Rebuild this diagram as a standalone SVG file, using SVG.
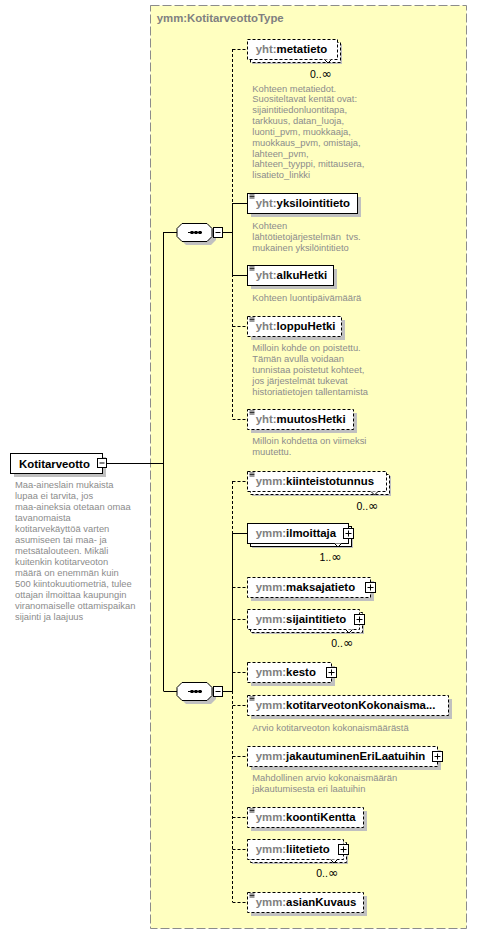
<svg xmlns="http://www.w3.org/2000/svg" width="477" height="934" viewBox="0 0 477 934">
<style>
.bg{fill:#fff}
.cont{fill:#ffffc0;stroke:#8c8c8c;stroke-width:1;stroke-dasharray:9 3}
.box{fill:#fff;stroke:#000;stroke-width:1}
.opt{stroke-dasharray:3 2}
.shd{fill:#c0c0c0}
.ln{stroke:#000;stroke-width:1;fill:none}
.dl{stroke-dasharray:3 2}
.ico{stroke:#000;stroke-width:0.8;fill:none}
.lbl{font-family:"Liberation Sans",Arial,sans-serif;font-weight:bold;font-size:11.4px;fill:#000}
.pfx{fill:#808080}
.ttl{font-family:"Liberation Sans",Arial,sans-serif;font-weight:bold;font-size:11.4px;fill:#808080}
.desc{font-family:"Liberation Sans",Arial,sans-serif;font-size:9.4px;fill:#8c8c8c}
.occ{font-family:"Liberation Sans",Arial,sans-serif;font-size:10.5px;fill:#000;text-anchor:end}
.inf{font-family:"DejaVu Sans",sans-serif;font-size:12.5px}
.v{fill:#fff;stroke:#000;stroke-width:1}
</style>
<rect class="bg" x="0" y="0" width="477" height="934"/>
<g id="container">
<rect class="cont" x="150.5" y="5.5" width="316" height="923"/>
<text class="ttl" x="156.7" y="22.3">ymm:KotitarveottoType</text>
</g>

<g id="connectors">
<path class="ln" d="M107 463.5H163.5M163.5 232V691M163.5 232.5H177M163.5 691.5H177"/>
<path class="ln" d="M223 232.5H232.5M223 691.5H232.5"/>
<path class="ln dl" d="M232.5 49V419"/>
<path class="ln" d="M232.5 203V275"/>
<path class="ln dl" d="M232.5 481V902"/>
<path class="ln" d="M232.5 533V691"/>
<path class="ln dl" d="M232.5 49.5H247M232.5 326.5H247M232.5 419.5H247"/>
<path class="ln" d="M232.5 203.5H247M232.5 275.5H247"/>
<path class="ln dl" d="M232.5 481.5H247M232.5 587.5H247M232.5 619.5H247M232.5 672.5H247M232.5 705.5H247M232.5 756.5H247M232.5 817.5H247M232.5 849.5H247M232.5 902.5H247"/>
<path class="ln" d="M232.5 533.5H247"/>
</g>

<g id="n-Kotitarveotto">
<rect class="shd" x="14" y="457" width="92" height="20"/>
<rect class="box" x="10.5" y="453.5" width="92" height="20"/>
<text class="lbl" x="19" y="467.5">Kotitarveotto</text>
<rect class="box" x="97.5" y="458.5" width="9" height="9"/>
<path class="ln" d="M99.5 463H104.5"/>
<text class="desc" x="15" y="488.3"><tspan x="15">Maa-aineslain mukaista</tspan><tspan x="15" dy="11">lupaa ei tarvita, jos</tspan><tspan x="15" dy="11">maa-aineksia otetaan omaa</tspan><tspan x="15" dy="11">tavanomaista</tspan><tspan x="15" dy="11">kotitarvekäyttöä varten</tspan><tspan x="15" dy="11">asumiseen tai maa- ja</tspan><tspan x="15" dy="11">metsätalouteen. Mikäli</tspan><tspan x="15" dy="11">kuitenkin kotitarveoton</tspan><tspan x="15" dy="11">määrä on enemmän kuin</tspan><tspan x="15" dy="11">500 kiintokuutiometriä, tulee</tspan><tspan x="15" dy="11">ottajan ilmoittaa kaupungin</tspan><tspan x="15" dy="11">viranomaiselle ottamispaikan</tspan><tspan x="15" dy="11">sijainti ja laajuus</tspan></text>
</g>

<g id="seq1">
<path class="shd" d="M186 227H211L216 232V240L211 245H186L181 240V232Z"/>
<path class="box" d="M182 223.5H207L212 228.5V236.5L207 241.5H182L177 236.5V228.5Z"/>
<path class="ln" d="M188 232.5H202"/>
<rect x="190.5" y="231" width="3" height="3" fill="#000"/>
<rect x="194.5" y="231" width="3" height="3" fill="#000"/>
<rect x="198.5" y="231" width="3" height="3" fill="#000"/>
<rect class="box" x="213.5" y="227.5" width="9" height="10"/>
<path class="ln" d="M215.5 232.5H220.5"/>
</g>

<g id="seq2">
<path class="shd" d="M186 686H211L216 691V699L211 704H186L181 699V691Z"/>
<path class="box" d="M182 682.5H207L212 687.5V695.5L207 700.5H182L177 695.5V687.5Z"/>
<path class="ln" d="M188 691.5H202"/>
<rect x="190.5" y="690" width="3" height="3" fill="#000"/>
<rect x="194.5" y="690" width="3" height="3" fill="#000"/>
<rect x="198.5" y="690" width="3" height="3" fill="#000"/>
<rect class="box" x="213.5" y="686.5" width="9" height="10"/>
<path class="ln" d="M215.5 691.5H220.5"/>
</g>

<g id="n-metatieto">
<rect class="shd" x="252" y="44" width="90" height="20"/>
<rect class="box opt" x="250.5" y="42.5" width="90" height="20"/>
<rect class="box opt" x="247.5" y="39.5" width="90" height="20"/>
<path class="v" d="M324.5 59.5L328 63L331.5 59.5"/>
<text class="lbl" x="255.7" y="53.3"><tspan class="pfx">yht:</tspan>metatieto</text>
<text class="occ" x="332" y="77.5">0..<tspan class="inf">∞</tspan></text>
<text class="desc" x="252.3" y="91.5"><tspan x="252.3">Kohteen metatiedot.</tspan><tspan x="252.3" dy="10.85">Suositeltavat kentät ovat:</tspan><tspan x="252.3" dy="10.85">sijaintitiedonluontitapa,</tspan><tspan x="252.3" dy="10.85">tarkkuus, datan_luoja,</tspan><tspan x="252.3" dy="10.85">luonti_pvm, muokkaaja,</tspan><tspan x="252.3" dy="10.85">muokkaus_pvm, omistaja,</tspan><tspan x="252.3" dy="10.85">lahteen_pvm,</tspan><tspan x="252.3" dy="10.85">lahteen_tyyppi, mittausera,</tspan><tspan x="252.3" dy="10.85">lisatieto_linkki</tspan></text>
</g>

<g id="n-yksilointitieto">
<rect class="shd" x="251" y="197" width="110" height="20"/>
<rect class="box" x="247.5" y="193.5" width="110" height="20"/>
<path class="ico" d="M249.5 195H254.5M249.5 196.5H254.5M249.5 198H254.5"/>
<text class="lbl" x="255.7" y="207.3"><tspan class="pfx">yht:</tspan>yksilointitieto</text>
<text class="desc" x="252.3" y="229" xml:space="preserve"><tspan x="252.3">Kohteen</tspan><tspan x="252.3" dy="11">lähtötietojärjestelmän  tvs.</tspan><tspan x="252.3" dy="11">mukainen yksilöintitieto</tspan></text>
</g>

<g id="n-alkuHetki">
<rect class="shd" x="251" y="269" width="86" height="20"/>
<rect class="box" x="247.5" y="265.5" width="86" height="20"/>
<path class="ico" d="M249.5 267H254.5M249.5 268.5H254.5M249.5 270H254.5"/>
<text class="lbl" x="255.7" y="279.3"><tspan class="pfx">yht:</tspan>alkuHetki</text>
<text class="desc" x="252.3" y="300.7">Kohteen luontipäivämäärä</text>
</g>

<g id="n-loppuHetki">
<rect class="shd" x="251" y="320" width="94" height="20"/>
<rect class="box opt" x="247.5" y="316.5" width="94" height="20"/>
<path class="ico" d="M249.5 318H254.5M249.5 319.5H254.5M249.5 321H254.5"/>
<text class="lbl" x="255.7" y="330.3"><tspan class="pfx">yht:</tspan>loppuHetki</text>
<text class="desc" x="252.3" y="350.7"><tspan x="252.3">Milloin kohde on poistettu.</tspan><tspan x="252.3" dy="11">Tämän avulla voidaan</tspan><tspan x="252.3" dy="11">tunnistaa poistetut kohteet,</tspan><tspan x="252.3" dy="11">jos järjestelmät tukevat</tspan><tspan x="252.3" dy="11">historiatietojen tallentamista</tspan></text>
</g>

<g id="n-muutosHetki">
<rect class="shd" x="251" y="413" width="106" height="20"/>
<rect class="box opt" x="247.5" y="409.5" width="106" height="20"/>
<path class="ico" d="M249.5 411H254.5M249.5 412.5H254.5M249.5 414H254.5"/>
<text class="lbl" x="255.7" y="423.3"><tspan class="pfx">yht:</tspan>muutosHetki</text>
<text class="desc" x="252.3" y="444.3"><tspan x="252.3">Milloin kohdetta on viimeksi</tspan><tspan x="252.3" dy="11">muutettu.</tspan></text>
</g>

<g id="n-kiinteistotunnus">
<rect class="shd" x="252" y="476" width="139" height="20"/>
<rect class="box opt" x="250.5" y="474.5" width="139" height="20"/>
<rect class="box opt" x="247.5" y="471.5" width="139" height="20"/>
<path class="v" d="M371 491.5L374.5 495L378 491.5"/>
<path class="ico" d="M249.5 473H254.5M249.5 474.5H254.5M249.5 476H254.5"/>
<text class="lbl" x="255.7" y="485.3"><tspan class="pfx">ymm:</tspan>kiinteistotunnus</text>
<text class="occ" x="378.5" y="509.5">0..<tspan class="inf">∞</tspan></text>
</g>

<g id="n-ilmoittaja">
<rect class="shd" x="252" y="528" width="101" height="20"/>
<rect class="box" x="250.5" y="526.5" width="101" height="20"/>
<rect class="box" x="247.5" y="523.5" width="101" height="20"/>
<path class="v" d="M334.5 543.5L338 547L341.5 543.5"/>
<text class="lbl" x="255.7" y="537.3"><tspan class="pfx">ymm:</tspan>ilmoittaja</text>
<rect class="box" x="343.5" y="528.5" width="10" height="10"/>
<path class="ln" d="M345.5 533.5H351.5M348.5 530.5V536.5"/>
<text class="occ" x="341.7" y="561">1..<tspan class="inf">∞</tspan></text>
</g>

<g id="n-maksajatieto">
<rect class="shd" x="251" y="581" width="123" height="20"/>
<rect class="box opt" x="247.5" y="577.5" width="123" height="20"/>
<text class="lbl" x="255.7" y="591.3"><tspan class="pfx">ymm:</tspan>maksajatieto</text>
<rect class="box" x="365.5" y="582.5" width="10" height="10"/>
<path class="ln" d="M367.5 587.5H373.5M370.5 584.5V590.5"/>
</g>

<g id="n-sijaintitieto">
<rect class="shd" x="252" y="614" width="112" height="20"/>
<rect class="box opt" x="250.5" y="612.5" width="112" height="20"/>
<rect class="box opt" x="247.5" y="609.5" width="112" height="20"/>
<path class="v" d="M345.5 629.5L349 633L352.5 629.5"/>
<text class="lbl" x="255.7" y="623.3"><tspan class="pfx">ymm:</tspan>sijaintitieto</text>
<rect class="box" x="354.5" y="614.5" width="10" height="10"/>
<path class="ln" d="M356.5 619.5H362.5M359.5 616.5V622.5"/>
<text class="occ" x="353.3" y="647">0..<tspan class="inf">∞</tspan></text>
</g>

<g id="n-kesto">
<rect class="shd" x="251" y="666" width="84" height="20"/>
<rect class="box opt" x="247.5" y="662.5" width="84" height="20"/>
<text class="lbl" x="255.7" y="676.3"><tspan class="pfx">ymm:</tspan>kesto</text>
<rect class="box" x="326.5" y="667.5" width="10" height="10"/>
<path class="ln" d="M328.5 672.5H334.5M331.5 669.5V675.5"/>
</g>

<g id="n-kotitarveotonKokonaismaara">
<rect class="shd" x="251" y="699" width="201" height="20"/>
<rect class="box opt" x="247.5" y="695.5" width="201" height="20"/>
<path class="ico" d="M249.5 697H254.5M249.5 698.5H254.5M249.5 700H254.5"/>
<text class="lbl" x="255.7" y="709.3"><tspan class="pfx">ymm:</tspan>kotitarveotonKokonaisma...</text>
<text class="desc" x="252.3" y="730.7">Arvio kotitarveoton kokonaismäärästä</text>
</g>

<g id="n-jakautuminenEriLaatuihin">
<rect class="shd" x="251" y="750" width="190" height="20"/>
<rect class="box opt" x="247.5" y="746.5" width="190" height="20"/>
<text class="lbl" x="255.7" y="760.3"><tspan class="pfx">ymm:</tspan>jakautuminenEriLaatuihin</text>
<rect class="box" x="432.5" y="751.5" width="10" height="10"/>
<path class="ln" d="M434.5 756.5H440.5M437.5 753.5V759.5"/>
<text class="desc" x="252.3" y="781.3"><tspan x="252.3">Mahdollinen arvio kokonaismäärän</tspan><tspan x="252.3" dy="10.8">jakautumisesta eri laatuihin</tspan></text>
</g>

<g id="n-koontiKentta">
<rect class="shd" x="251" y="811" width="116" height="20"/>
<rect class="box opt" x="247.5" y="807.5" width="116" height="20"/>
<path class="ico" d="M249.5 809H254.5M249.5 810.5H254.5M249.5 812H254.5"/>
<text class="lbl" x="255.7" y="821.3"><tspan class="pfx">ymm:</tspan>koontiKentta</text>
</g>

<g id="n-liitetieto">
<rect class="shd" x="252" y="844" width="96" height="20"/>
<rect class="box opt" x="250.5" y="842.5" width="96" height="20"/>
<rect class="box opt" x="247.5" y="839.5" width="96" height="20"/>
<path class="v" d="M330.5 859.5L334 863L337.5 859.5"/>
<text class="lbl" x="255.7" y="853.3"><tspan class="pfx">ymm:</tspan>liitetieto</text>
<rect class="box" x="338.5" y="844.5" width="10" height="10"/>
<path class="ln" d="M340.5 849.5H346.5M343.5 846.5V852.5"/>
<text class="occ" x="338.3" y="877">0..<tspan class="inf">∞</tspan></text>
</g>

<g id="n-asianKuvaus">
<rect class="shd" x="251" y="896" width="116" height="20"/>
<rect class="box opt" x="247.5" y="892.5" width="116" height="20"/>
<path class="ico" d="M249.5 894H254.5M249.5 895.5H254.5M249.5 897H254.5"/>
<text class="lbl" x="255.7" y="906.3"><tspan class="pfx">ymm:</tspan>asianKuvaus</text>
</g>
</svg>
